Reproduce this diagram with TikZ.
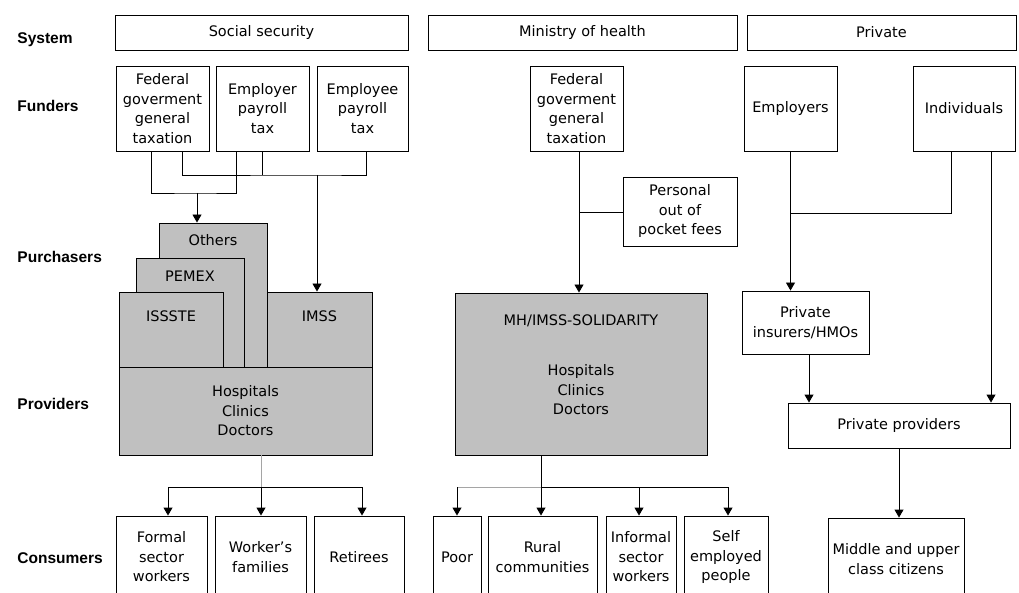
\documentclass[tikz,border=0pt]{standalone}
\usepackage{fontspec}
\setmainfont{DejaVu Sans}
\newfontfamily\rowfont{Liberation Sans}
\usetikzlibrary{arrows.meta}
\definecolor{boxgray}{RGB}{192,192,192}
\definecolor{linegray}{RGB}{165,165,165}

\begin{document}
\begin{tikzpicture}[x=1pt, y=-1pt, line width=0.9pt,
  font=\fontsize{14.5}{19.5}\selectfont,
  box/.style={draw, rectangle, inner sep=0pt, align=center},
  shaded/.style={box, fill=boxgray},
  rowname/.style={anchor=west, inner xsep=0pt, text height=11pt, text depth=0pt,
    font=\rowfont\bfseries\fontsize{15.5}{18}\selectfont},
  arr/.style={-{Triangle[width=9pt,length=8pt]}},
  faint/.style={draw=linegray}]
	\useasboundingbox (0,0) rectangle (1019,593);
	\clip (0,0) rectangle (1019,593);
	% row names
	\node[rowname] (rSystem) at (17,38) {System};
	\node[rowname] (rFunders) at (17,106) {Funders};
	\node[rowname] (rPurch) at (17,257) {Purchasers};
	\node[rowname] (rProv) at (17,404) {Providers};
	\node[rowname] (rCons) at (17,558) {Consumers};
	% systems
	\node[box, minimum width=293pt, minimum height=35pt] (sysSS) at (261.5,32.5) {Social security};
	\node[box, minimum width=309pt, minimum height=35pt] (sysMH) at (582.5,32.5) {Ministry of health};
	\node[box, minimum width=269pt, minimum height=35pt] (sysPr) at (881.5,32.5) {Private};
	% funders
	\node[box, minimum width=93pt, minimum height=85pt] (fedSS) at (162.5,108.5) {Federal\\goverment\\general\\taxation};
	\node[box, minimum width=93pt, minimum height=85pt] (emplrSS) at (262.5,108.5) {Employer\\payroll\\tax};
	\node[box, minimum width=91pt, minimum height=85pt] (empleSS) at (362.5,108.5) {Employee\\payroll\\tax};
	\node[box, minimum width=93pt, minimum height=85pt] (fedMH) at (576.5,108.5) {Federal\\goverment\\general\\taxation};
	\node[box, minimum width=114pt, minimum height=69pt] (pocket) at (680,211.5) {Personal\\out of\\pocket fees};
	\node[box, minimum width=93pt, minimum height=85pt] (employers) at (790.5,108.5) {Employers};
	\node[box, minimum width=102pt, minimum height=85pt] (individuals) at (964,108.5) {Individuals};
	% purchasers and providers
	\node[shaded, minimum width=108pt, minimum height=144pt, label={[anchor=center, yshift=-18pt]north:Others}] (others) at (213,295) {};
	\node[shaded, minimum width=108pt, minimum height=109pt, label={[anchor=center, yshift=-19pt]north:PEMEX}] (pemex) at (190,312.5) {};
	\node[shaded, minimum width=104pt, minimum height=75pt, label={[anchor=center, yshift=-25pt]north:ISSSTE}] (issste) at (171,329.5) {};
	\node[shaded, minimum width=105pt, minimum height=75pt, label={[anchor=center, yshift=-25pt]north:IMSS}] (imss) at (319.5,329.5) {};
	\node[shaded, minimum width=253pt, minimum height=88pt] (hospSS) at (245.5,411) {Hospitals\\Clinics\\Doctors};
	\node[shaded, minimum width=252pt, minimum height=162pt,
	  label={[anchor=center, yshift=-28pt]north:MH/IMSS-SOLIDARITY},
	  label={[anchor=center, align=center, yshift=-97.5pt]north:Hospitals\\Clinics\\Doctors}] (mh) at (581,374) {};
	\node[box, minimum width=127pt, minimum height=63pt] (insurers) at (805.5,322.5) {Private\\insurers/HMOs};
	\node[box, minimum width=222pt, minimum height=45pt] (provs) at (899,425.5) {Private providers};
	% consumers
	\node[box, minimum width=91pt, minimum height=82pt] (formal) at (161.5,557) {Formal\\sector\\workers};
	\node[box, minimum width=91pt, minimum height=82pt] (families) at (260.5,557) {Worker's\\families};
	\node[box, minimum width=90pt, minimum height=82pt] (retirees) at (359,557) {Retirees};
	\node[box, minimum width=48pt, minimum height=82pt] (poor) at (457,557) {Poor};
	\node[box, minimum width=109pt, minimum height=82pt] (rural) at (542.5,557) {Rural\\communities};
	\node[box, minimum width=70pt, minimum height=82pt] (informal) at (641,557) {Informal\\sector\\workers};
	\node[box, minimum width=84pt, minimum height=82pt] (selfemp) at (726,557) {Self\\employed\\people};
	\node[box, minimum width=136pt, minimum height=82pt] (middle) at (896,559) {Middle and upper\\class citizens};
	% junctions
	\coordinate (taxjoin) at (197,193);
	\coordinate (payjoin) at (317,175);
	\coordinate (mhjoin) at (579,212);
	\coordinate (prvjoin) at (791,213);
	\coordinate (ssfork) at (261,487);
	\coordinate (mhfork) at (541,487);
	% social security
	\draw ([xshift=-11.5pt]fedSS.south) |- (taxjoin) -| ([xshift=-26.5pt]emplrSS.south);
	\draw[arr] (taxjoin) -- (taxjoin |- others.north);
	\draw ([xshift=19.5pt]fedSS.south) |- (payjoin) -| ([xshift=3.5pt]empleSS.south);
	\draw (emplrSS.south) -- (emplrSS.south |- payjoin);
	\draw[arr] (payjoin) -- (payjoin |- imss.north);
	\draw[faint] (hospSS.south -| ssfork) -- (ssfork);
	\draw[arr] (ssfork) -- (ssfork |- families.north);
	\draw[arr] (ssfork) -| ([xshift=6.5pt]formal.north);
	\draw[arr] (ssfork) -| ([xshift=3pt]retirees.north);
	% ministry of health
	\draw[arr] (mhjoin |- fedMH.south) -- (mhjoin |- mh.north);
	\draw (mhjoin) -- (pocket.west |- mhjoin);
	\draw (mh.south -| mhfork) -- (mhfork);
	\draw[faint] (mhfork) -- (poor.north |- mhfork);
	\draw[arr] (poor.north |- mhfork) -- (poor.north);
	\draw[arr] (mhfork) -- (mhfork |- rural.north);
	\draw[arr] (mhfork) -| ([xshift=-2pt]informal.north);
	\draw[arr] (mhfork) -| ([xshift=2pt]selfemp.north);
	% private
	\draw[arr] (employers.south) -- (employers.south |- insurers.north);
	\draw (prvjoin) -| ([xshift=-13pt]individuals.south);
	\draw[arr] ([xshift=27pt]individuals.south) -- ([xshift=27pt]individuals.south |- provs.north);
	\draw[arr] ([xshift=3.5pt]insurers.south) -- ([xshift=3.5pt]insurers.south |- provs.north);
	\draw[arr] (provs.south) -- (provs.south |- middle.north);
\end{tikzpicture}
\end{document}
